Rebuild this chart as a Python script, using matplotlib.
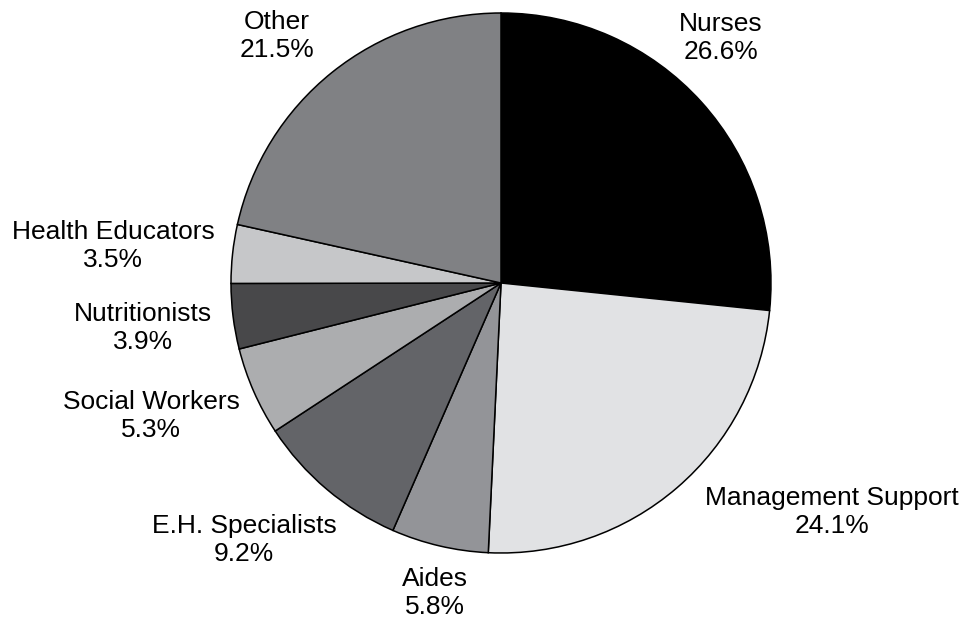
import matplotlib
matplotlib.use("Agg")
import matplotlib.pyplot as plt

# shares of staff by occupation (percent)
categories = ["Nurses", "Management Support", "Aides", "E.H. Specialists",
              "Social Workers", "Nutritionists", "Health Educators", "Other"]
shares = [26.6, 24.1, 5.8, 9.2, 5.3, 3.9, 3.5, 21.5]
colors = ["#000000", "#e1e2e4", "#939498", "#636468",
          "#acadaf", "#48484a", "#c6c7c9", "#808184"]

# label centres in pixel coords (x, y from top) for the two-line labels
label_pos = [(721, 38), (832, 512), (435, 593), (244, 540),
             (151, 416), (143, 328), (113, 246), (277, 36)]

W, H = 964, 620
fig = plt.figure(figsize=(W / 100, H / 100), dpi=100)
ax = fig.add_axes([0, 0, 1, 1])
ax.set_xlim(0, W)
ax.set_ylim(0, H)
ax.set_aspect("equal")
ax.axis("off")

ax.pie(shares, colors=colors, startangle=90, counterclock=False,
       center=(501, H - 283), radius=270,
       wedgeprops=dict(edgecolor="black", linewidth=1.1))

for name, val, (x, y) in zip(categories, shares, label_pos):
    ax.text(x, H - y, f"{name}\n{val:.1f}%", ha="center", va="center",
            fontsize=19, family="Liberation Sans", linespacing=1.25)

ax.set_xlim(0, W)
ax.set_ylim(0, H)
fig.savefig("out.png", dpi=100)
